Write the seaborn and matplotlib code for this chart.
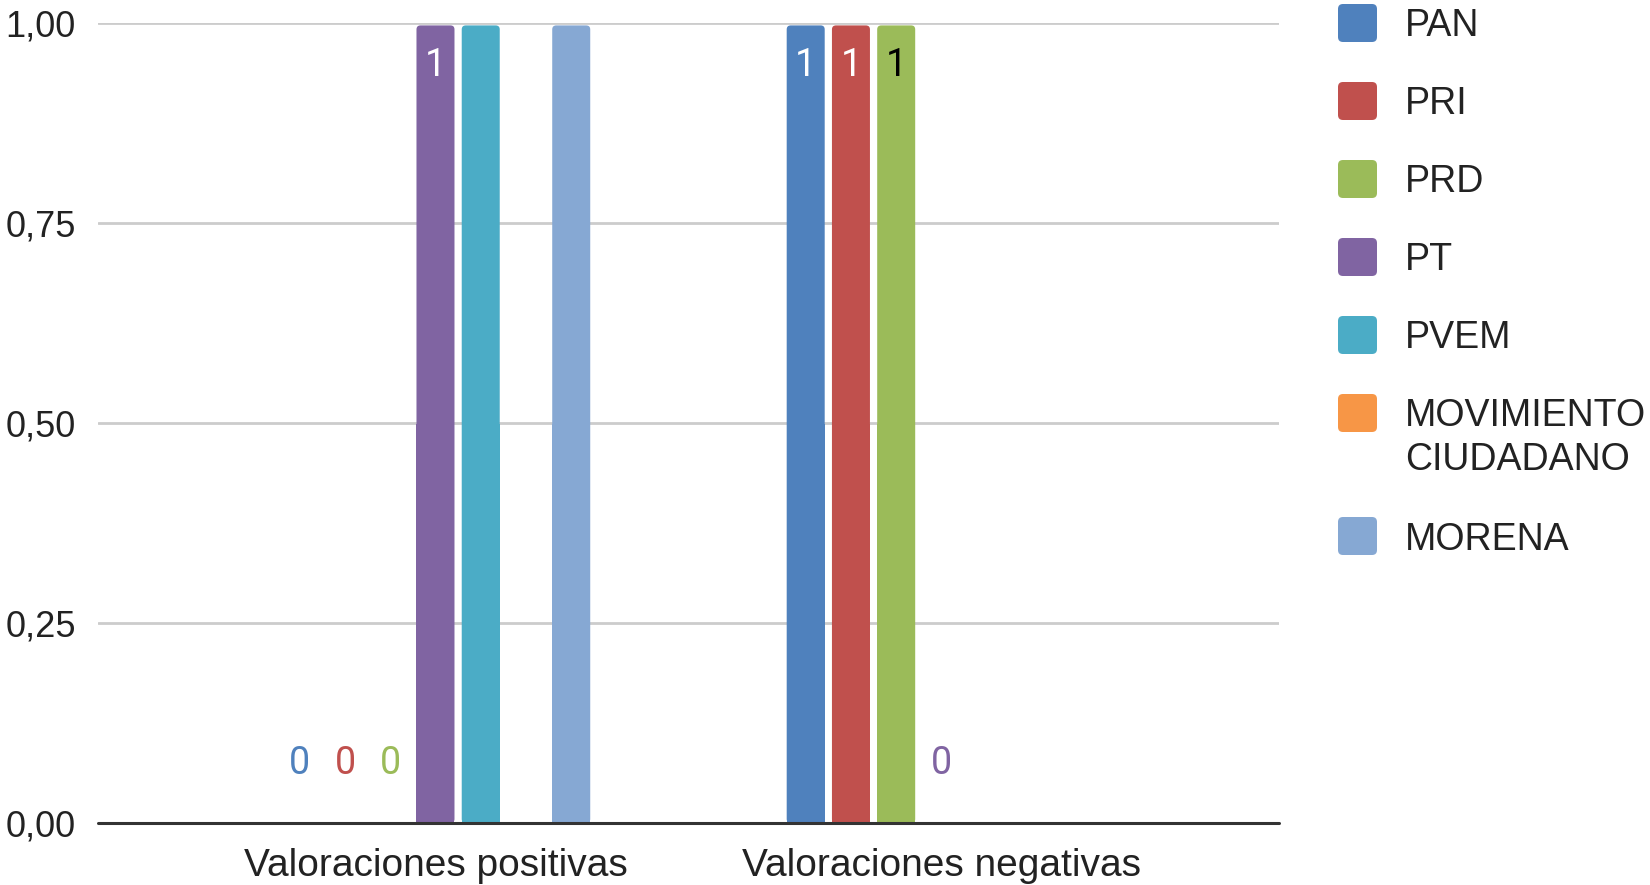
import seaborn as sns
import matplotlib.pyplot as plt
import numpy as np
import pandas as pd
from matplotlib.patches import FancyBboxPatch, Rectangle

# Data
categories = ["Valoraciones positivas", "Valoraciones negativas"]
parties = ["PAN", "PRI", "PRD", "PT", "PVEM", "MOVIMIENTO\nCIUDADANO", "MORENA"]
positivas = [0, 0, 0, 1, 1, np.nan, 1]
negativas = [1, 1, 1, 0, np.nan, np.nan, np.nan]
colors = ["#4f81bd", "#c0504d", "#9bbb59", "#8064a2", "#4bacc6", "#f79646", "#86a8d3"]
# series that show data labels
labelled = ["PAN", "PRI", "PRD", "PT"]
yticks = [0, 0.25, 0.5, 0.75, 1.0]

sns.set_style("white")
plt.rcParams['font.family'] = ['Liberation Sans', 'DejaVu Sans']

df = pd.DataFrame({
    "categoria": [categories[0]] * len(parties) + [categories[1]] * len(parties),
    "partido": parties * 2,
    "valor": positivas + negativas,
})

fig = plt.figure(figsize=(16.5, 8.85), dpi=100)
ax = fig.add_axes([0.0594, 0.070, 0.7157, 0.904])

palette = dict(zip(parties, colors))
sns.barplot(data=df, x="categoria", y="valor", hue="partido", hue_order=parties,
            order=categories, palette=palette, width=0.626, gap=0.16,
            linewidth=0, saturation=1, legend=False, ax=ax)

ax.set_ylim(0, 1.0)
ax.set_xlim(-0.667, 1.667)

# Rounded tops + data labels
for party, cont in zip(parties, ax.containers):
    for bar in cont:
        h = bar.get_height()
        if np.isnan(h):
            continue
        x0, w = bar.get_x(), bar.get_width()
        bar.set_visible(False)
        if h > 0:
            top = h - 0.003
            rb = FancyBboxPatch((x0, 0), w, top,
                                boxstyle="round,pad=0,rounding_size=0.008",
                                mutation_aspect=0.63, facecolor=palette[party],
                                edgecolor="none", zorder=2, clip_on=False)
            ax.add_patch(rb)
            ax.add_patch(Rectangle((x0, 0), w, top / 2, facecolor=palette[party],
                                   edgecolor="none", zorder=2))
        if party in labelled:
            if h > 0:
                txt_col = "black" if party == "PRD" else "white"
                ax.text(x0 + w / 2, h - 0.053, f"{h:g}",
                        ha="center", va="center", color=txt_col,
                        fontsize=27, family="Roboto", zorder=3)
            else:
                ax.text(x0 + w / 2, 0.074, "0", ha="center", va="center",
                        color=palette[party], fontsize=27, family="Roboto", zorder=3)

ax.set_yticks(yticks)
ax.set_yticklabels([f"{t:.2f}".replace(".", ",") for t in yticks])
ax.yaxis.grid(True, color="#cccccc", linewidth=2)
ax.set_axisbelow(True)
ax.axhline(0, color="#333333", linewidth=2.2, zorder=4, clip_on=False)
for s in ax.spines.values():
    s.set_visible(False)
ax.tick_params(axis="y", length=0, pad=16, labelsize=26, labelcolor="#222222")
ax.tick_params(axis="x", length=0, pad=18, labelsize=28, labelcolor="#222222")
ax.set_xlabel("")
ax.set_ylabel("")

# Legend drawn by hand so the two-line entry lines up like the original
W, H = 1650, 885
y_c = 23
for party, col in zip(parties, colors):
    sq = FancyBboxPatch((1338 / W, 1 - (y_c + 19) / H), 39 / W, 38 / H,
                        boxstyle="round,pad=0,rounding_size=0.003",
                        mutation_aspect=W / H, facecolor=col, edgecolor="none",
                        transform=fig.transFigure)
    fig.add_artist(sq)
    lines = party.split("\n")
    for k, line in enumerate(lines):
        fig.text(1405 / W, 1 - (y_c + 13.5 + 44 * k) / H, line, ha="left",
                 va="baseline", fontsize=27, color="#222222")
    y_c += 78 + 45 * (len(lines) - 1)

fig.savefig("out.png", dpi=100)
